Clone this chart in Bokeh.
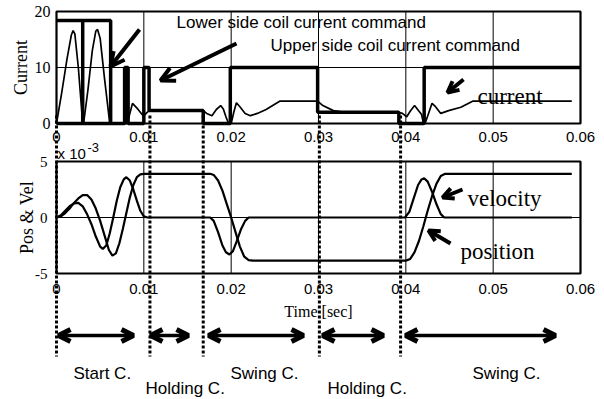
from bokeh.plotting import figure
from bokeh.models import Range1d, LinearAxis, FixedTicker, Label, Arrow, OpenHead
from bokeh.embed import file_html
from bokeh.resources import INLINE

# ---------------------------------------------------------------- data
time_ticks = [0.0, 0.01, 0.02, 0.03, 0.04, 0.05, 0.06]
current_ticks = [0, 10, 20]
posvel_ticks = [-5, 0, 5]

# coil current commands, value held from each time on
lower_cmd_t = [0.0, 0.0030, 0.0030, 0.0062]
lower_cmd_v = [18.4, 0.0, 18.4, 0.0]
upper_cmd_t = [0.0, 0.0078, 0.0082, 0.0100, 0.0106, 0.0168, 0.0199,
               0.0299, 0.0392, 0.0421, 0.0600]
upper_cmd_v = [0.0, 10.0, 0.0, 10.0, 2.3, 0.0, 10.0, 2.0, 0.0, 10.0, 10.0]

# measured coil current
current_t = [0.0000, 0.0006, 0.0012, 0.0017, 0.0019, 0.0021, 0.0025, 0.0030,
             0.0031, 0.0036, 0.0041, 0.0045, 0.0047, 0.0050, 0.0055, 0.0061,
             0.0078, 0.0081, 0.0087, 0.0093, 0.0098, 0.0100, 0.0106, 0.0168,
             0.0172, 0.0178, 0.0183, 0.0188, 0.0191, 0.0194, 0.0197, 0.0200,
             0.0203, 0.0206, 0.0210, 0.0216, 0.0222, 0.0230, 0.0240, 0.0256,
             0.0299, 0.0305, 0.0317, 0.0330, 0.0344, 0.0392, 0.0396, 0.0401,
             0.0405, 0.0410, 0.0414, 0.0418, 0.0420, 0.0422, 0.0426, 0.0430,
             0.0434, 0.0440, 0.0449, 0.0463, 0.0477, 0.0590]
current_v = [0.0, 5.5, 11.5, 15.8, 16.6, 16.0, 10.0, 0.0,
             0.0, 6.0, 13.0, 16.5, 16.8, 15.2, 8.0, 0.0,
             0.0, 0.0, 3.6, 2.6, 1.6, 1.4, 2.3, 2.3,
             1.8, 1.4, 2.5, 3.2, 2.6, 1.2, 0.0, 0.0,
             2.0, 3.7, 3.0, 1.8, 1.4, 1.8, 2.5, 4.0,
             4.0, 3.2, 2.3, 2.0, 2.0, 2.0, 1.8, 1.2,
             2.2, 3.2, 2.4, 1.6, 0.2, 0.0, 1.8, 3.6,
             3.0, 1.8, 2.3, 2.9, 4.0, 4.0]

# position and velocity (x 10^-3)
pos_t = [0.0000, 0.0005, 0.0010, 0.0015, 0.0020, 0.0025, 0.0030, 0.0035,
         0.0040, 0.0045, 0.0050, 0.0055, 0.0060, 0.0064, 0.0068, 0.0072,
         0.0076, 0.0080, 0.0084, 0.0088, 0.0092, 0.0096, 0.0100, 0.0176,
         0.0180, 0.0185, 0.0190, 0.0195, 0.0200, 0.0205, 0.0210, 0.0215,
         0.0220, 0.0225, 0.0400, 0.0405, 0.0410, 0.0415, 0.0420, 0.0425,
         0.0430, 0.0435, 0.0440, 0.0445, 0.0590]
pos_v = [0.0, 0.1, 0.4, 0.8, 1.3, 1.7, 2.0, 2.0,
         1.6, 0.8, -0.3, -1.6, -2.9, -3.4, -3.2, -2.3,
         -1.0, 0.4, 1.8, 2.9, 3.6, 3.85, 3.9, 3.9,
         3.8, 3.3, 2.4, 1.2, 0.0, -1.3, -2.6, -3.5,
         -3.8, -3.85, -3.85, -3.7, -3.1, -2.1, -0.8, 0.6,
         1.9, 3.0, 3.7, 3.9, 3.9]

vel_t = [0.0000, 0.0005, 0.0010, 0.0015, 0.0020, 0.0025, 0.0030, 0.0035,
         0.0040, 0.0045, 0.0050, 0.0053, 0.0057, 0.0061, 0.0065, 0.0069,
         0.0073, 0.0077, 0.0080, 0.0084, 0.0088, 0.0092, 0.0096, 0.0100,
         0.0104, 0.0176, 0.0180, 0.0185, 0.0190, 0.0194, 0.0198, 0.0202,
         0.0206, 0.0211, 0.0216, 0.0220, 0.0399, 0.0404, 0.0409, 0.0414,
         0.0418, 0.0421, 0.0425, 0.0430, 0.0435, 0.0440, 0.0444, 0.0590]
vel_v = [0.0, 0.2, 0.6, 1.0, 1.25, 1.3, 1.0, 0.3,
         -0.6, -1.7, -2.6, -2.8, -2.5, -1.4, 0.0, 1.5,
         2.7, 3.4, 3.6, 3.3, 2.5, 1.5, 0.6, 0.1,
         0.0, 0.0, -0.3, -1.3, -2.5, -3.1, -3.3, -3.0,
         -2.2, -1.1, -0.3, 0.0, 0.0, 0.5, 1.7, 2.9,
         3.4, 3.5, 3.2, 2.3, 1.2, 0.3, 0.0, 0.0]

# control phases
phase_t = [0.0, 0.0107, 0.0168, 0.0301, 0.0394]
phase_names = ["Start C.", "Holding C.", "Swing C.", "Holding C.", "Swing C."]

# ---------------------------------------------------------------- layout
W, H = 604, 399
X0, X1 = 56, 580            # columns of the first and last time tick
CUR_TOP, CUR_BOT = 11, 123  # rows of the current panel box
PV_TOP, PV_BOT = 161, 273   # rows of the position/velocity panel box

t_lo, t_hi = time_ticks[0], time_ticks[-1]
tpp = (t_hi - t_lo) / (X1 - X0)


def band(v_lo, v_hi, top, bot):
    upp = (v_hi - v_lo) / (bot - top)
    return Range1d(v_lo - (H - bot) * upp, v_hi + top * upp)


p = figure(width=W, height=H,
           x_range=Range1d(t_lo - X0 * tpp, t_hi + (W - X1) * tpp),
           y_range=Range1d(H, 0),
           x_axis_type=None, y_axis_type=None,
           output_backend="svg", toolbar_location=None, min_border=0)
p.extra_x_ranges = {"px": Range1d(0, W)}
p.extra_y_ranges = {"cur": band(current_ticks[0], current_ticks[-1], CUR_TOP, CUR_BOT),
                    "pv": band(posvel_ticks[0], posvel_ticks[-1], PV_TOP, PV_BOT)}
p.outline_line_color = None
p.background_fill_color = "white"
p.border_fill_color = "white"

SANS = "Liberation Sans"
SERIF = "Liberation Serif"

# grid lines and panel boxes
grid_t = time_ticks[1:-1]
n = len(grid_t)
for rng, ticks in (("cur", current_ticks), ("pv", posvel_ticks)):
    p.segment(x0=grid_t, y0=[ticks[0]] * n, x1=grid_t, y1=[ticks[-1]] * n,
              y_range_name=rng, line_color="black", line_width=1)
    mids = ticks[1:-1]
    p.segment(x0=[t_lo] * len(mids), y0=mids, x1=[t_hi] * len(mids), y1=mids,
              y_range_name=rng, line_color="black", line_width=1)
    p.quad(left=[t_lo], right=[t_hi], bottom=[ticks[0]], top=[ticks[-1]],
           y_range_name=rng, fill_color=None, line_color="black", line_width=2.2)

# current panel
p.step(lower_cmd_t, lower_cmd_v, mode="after", y_range_name="cur",
       line_color="black", line_width=3.5)
p.step(upper_cmd_t, upper_cmd_v, mode="after", y_range_name="cur",
       line_color="black", line_width=3.5)
p.line(current_t, current_v, y_range_name="cur", line_color="black", line_width=1.7)

# position / velocity panel
p.line(pos_t, pos_v, y_range_name="pv", line_color="black", line_width=2.2)
p.line(vel_t, vel_v, y_range_name="pv", line_color="black", line_width=2.2)

# phase boundaries
p.segment(x0=phase_t, y0=[115] * len(phase_t), x1=phase_t, y1=[356] * len(phase_t),
          line_color="black", line_width=3, line_dash="3 2")


# axes
def style(ax, font, size, standoff):
    ax.major_tick_in = 0
    ax.major_tick_out = 0
    ax.minor_tick_in = 0
    ax.minor_tick_out = 0
    ax.axis_line_color = None
    ax.major_label_text_font = font
    ax.major_label_text_font_size = size
    ax.major_label_text_color = "black"
    ax.major_label_standoff = standoff
    ax.axis_label_text_font = SERIF
    ax.axis_label_text_font_size = "18px"
    ax.axis_label_text_font_style = "normal"
    ax.axis_label_text_color = "black"


tlabels = {t: f"{t:g}" for t in time_ticks}

ax = LinearAxis(y_range_name="cur", ticker=FixedTicker(ticks=current_ticks),
                bounds=(current_ticks[0], current_ticks[-1]), fixed_location=t_lo,
                axis_label="Current")
style(ax, SERIF, "16px", 6)
ax.axis_label_standoff = 1
p.add_layout(ax, "left")

ax = LinearAxis(y_range_name="cur", ticker=FixedTicker(ticks=time_ticks),
                bounds=(t_lo, t_hi), fixed_location=current_ticks[0],
                major_label_overrides=tlabels)
style(ax, SANS, "15px", 8)
p.add_layout(ax, "below")

ax = LinearAxis(y_range_name="pv", ticker=FixedTicker(ticks=posvel_ticks),
                bounds=(posvel_ticks[0], posvel_ticks[-1]), fixed_location=t_lo,
                axis_label="Pos & Vel",
                major_label_overrides={v: str(v) for v in posvel_ticks})
style(ax, SERIF, "15px", 9)
ax.axis_label_standoff = -5
p.add_layout(ax, "left")

ax = LinearAxis(y_range_name="pv", ticker=FixedTicker(ticks=time_ticks),
                bounds=(t_lo, t_hi), fixed_location=posvel_ticks[0],
                major_label_overrides=tlabels, axis_label="Time [sec]")
style(ax, SANS, "15px", 10)
ax.axis_label_text_font_size = "16px"
ax.axis_label_standoff = 6
p.add_layout(ax, "below")


# texts and pointers
def text(x, y, s, font, size):
    p.add_layout(Label(x=x, y=y, text=s, x_range_name="px", text_font=font,
                       text_font_size=size, text_color="black",
                       text_baseline="alphabetic"))


def pointer(x0, y0, x1, y1, size=14, width=4):
    p.add_layout(Arrow(x_start=x0, y_start=y0, x_end=x1, y_end=y1, x_range_name="px",
                       line_width=width, line_color="black",
                       end=OpenHead(size=size, line_width=width, line_color="black")))


text(176, 22, "Lower side coil current command", SANS, "17px")
text(270, 45, "Upper side coil current command", SANS, "17px")
text(477, 96, "current", SERIF, "23px")
text(467, 198, "velocity", SERIF, "23px")
text(460, 251, "position", SERIF, "23px")
text(57, 153, "x 10", SANS, "15px")
text(87, 147, "-3", SANS, "13px")

pointer(139, 29, 110, 66)
pointer(236, 43, 160, 80)
pointer(463, 79, 447, 92, size=11, width=4)
pointer(462, 189, 442, 197, size=11, width=4)
pointer(450, 243, 428, 230, size=11, width=4)

# phase spans
spans = [(58, 133), (150, 188), (208, 303), (322, 383), (405, 555)]
name_pos = [(73, 373), (145, 388), (230, 373), (327, 388), (472, 373)]
for (a, b), (lx, ly), name in zip(spans, name_pos, phase_names):
    p.add_layout(Arrow(x_start=a, y_start=335, x_end=b, y_end=335, x_range_name="px",
                       line_width=3.5, line_color="black",
                       start=OpenHead(size=12, line_width=5, line_color="black"),
                       end=OpenHead(size=12, line_width=5, line_color="black")))
    text(lx, ly, name, SANS, "17px")

open("out.html", "w").write(file_html(p, INLINE))
